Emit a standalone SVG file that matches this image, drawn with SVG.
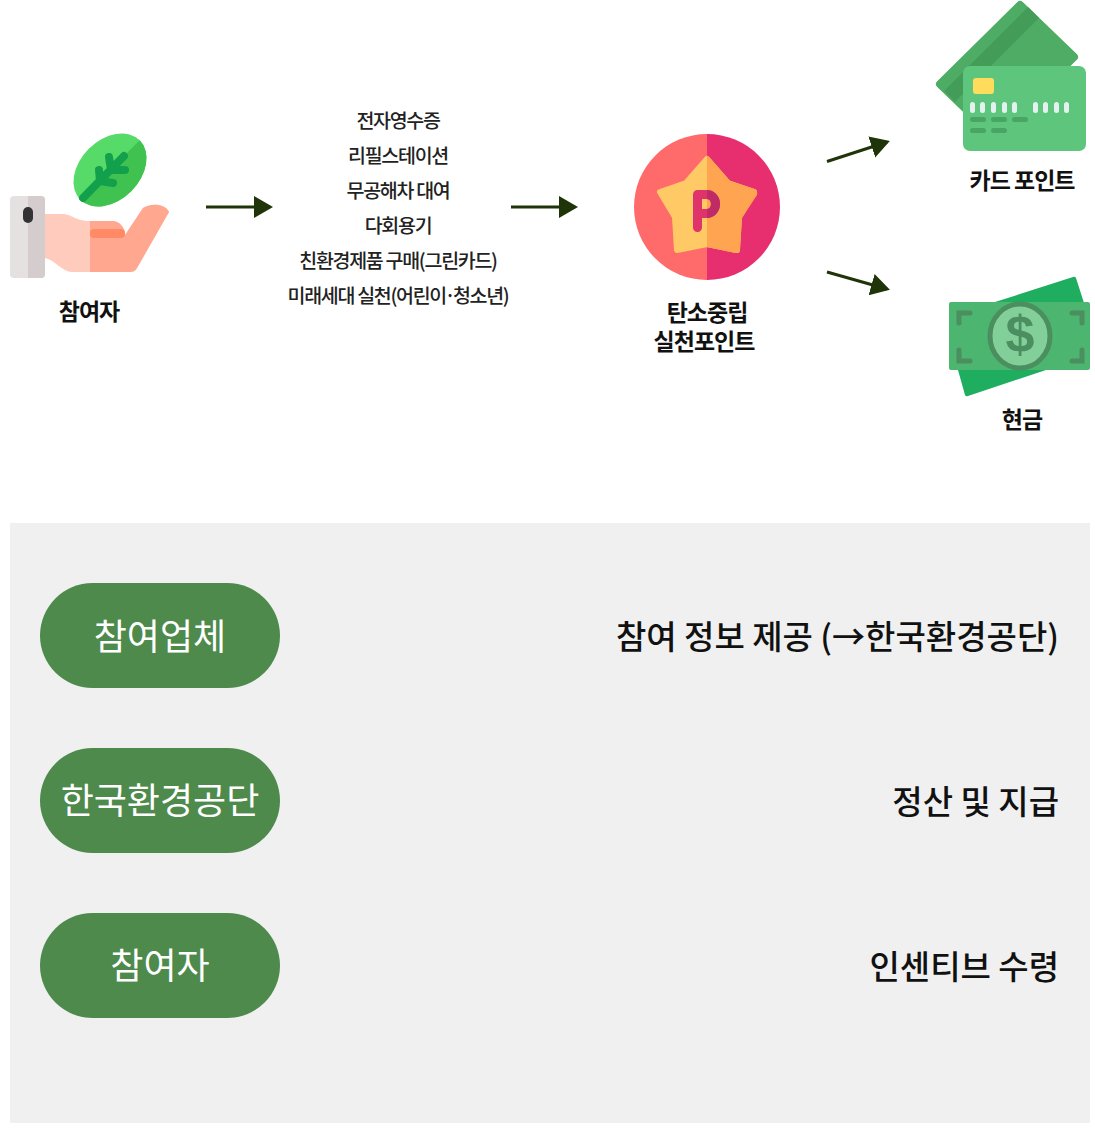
<svg xmlns="http://www.w3.org/2000/svg" width="1095" height="1134" viewBox="0 0 1095 1134">
<style>
text{font-family:"Noto Sans CJK KR","Liberation Sans",sans-serif;text-anchor:middle}
.lab{font-size:23px;font-weight:700;fill:#111;letter-spacing:-1px}
.lst{font-size:19.5px;font-weight:500;fill:#222;letter-spacing:-1.3px}
.pill{fill:#4e8a4c}
.pt{font-size:36px;font-weight:400;fill:#fff}
.rt{font-size:33px;font-weight:500;fill:#111;text-anchor:end}
.ln{stroke:#1f3408;stroke-width:3;fill:none;marker-end:url(#a)}
.dot{fill:#e4f1f0}
</style>
<defs>
<marker id="a" markerUnits="userSpaceOnUse" markerWidth="20" markerHeight="24" refX="16" refY="11" orient="auto"><path d="M0 0L19 11L0 22Z" fill="#1f3408"/></marker>
</defs>
<rect width="1095" height="1134" fill="#fff"/>
<g id="connectors">
<path class="ln" d="M206 207H270"/>
<path class="ln" d="M511 207H575"/>
<path class="ln" d="M827 161.500L887 142"/>
<path class="ln" d="M827 272L887 289"/>
</g>
<g id="participant">
<g transform="rotate(-45 110 170)">
<ellipse cx="110" cy="170" rx="42" ry="30" fill="#56da68"/>
<path d="M68 170A42 30 0 0 0 152 170Z" fill="#40c250"/>
</g>
<path d="M83 198L124 156M100 181L99 170M100 181L113 183M111 170L109 157M111 170L125 170" stroke="#12a04c" stroke-width="8" stroke-linecap="round" fill="none"/>
<path d="M45 214H62C72 214 75 221 90 221H112C120 221 125 228 125 235L143 208C150 203 165 203 169 212L137 268C135 271 133 272 129 272H72C62 272 55 260 45 258Z" fill="#ffcbbc"/>
<path d="M90 221H112C120 221 125 228 125 235L143 208C150 203 165 203 169 212L137 268C135 271 133 272 129 272H90Z" fill="#ffa78f"/>
<rect x="90" y="229" width="35" height="9" rx="4" fill="#ff8a65"/>
<rect x="10" y="196" width="35" height="82" rx="4" fill="#e6e1e1"/>
<path d="M28 196H41a4 4 0 0 1 4 4V274a4 4 0 0 1-4 4H28Z" fill="#d5cdcd"/>
<rect x="23" y="207" width="10" height="16" rx="5" fill="#333"/>
<text class="lab" x="89" y="320">참여자</text>
</g>
<g id="actions">
<text class="lst" x="398" y="127.500">전자영수증</text>
<text class="lst" x="398" y="162.500">리필스테이션</text>
<text class="lst" x="398" y="197.500">무공해차 대여</text>
<text class="lst" x="398" y="232.500">다회용기</text>
<text class="lst" x="398" y="267.500">친환경제품 구매(그린카드)</text>
<text class="lst" x="398" y="302.500">미래세대 실천(어린이<tspan dx="-1.500">·</tspan><tspan dx="-1.500">청소년)</tspan></text>
</g>
<g id="points">
<path d="M707 134A73 73 0 0 0 707 280Z" fill="#ff6b6b"/>
<path d="M707 134A73 73 0 0 1 707 280Z" fill="#e72e6e"/>
<path d="M707 159L728 183L754 192L739 217L737 250L707 244L677 250L675 217L660 192L686 183Z" fill="#ffc965" stroke="#ffc965" stroke-width="6" stroke-linejoin="round"/>
<path d="M707 156V247L735 253Q740 253 740 248L742 218L757 195Q758 191 755 189L730 181L710 158Q708 156 707 156Z" fill="#ffa552"/>
<path d="M697.500 227.500V194.500H706C712 194.500 715.500 199 715.500 204C715.500 209 712 213.500 706 213.500H697.500" fill="none" stroke="#e0336b" stroke-width="9" stroke-linecap="round" stroke-linejoin="round"/>
<path d="M707 194.500C712 194.500 715.500 199 715.500 204C715.500 209 712 213.500 707 213.500" fill="none" stroke="#bf2b66" stroke-width="9"/>
<text class="lab"><tspan x="707" y="321">탄소중립</tspan><tspan x="704" y="350">실천포인트</tspan></text>
</g>
<g id="card">
<path d="M1020 5L1074 57L994 136L940 84Z" fill="#4eac64" stroke="#4eac64" stroke-width="8" stroke-linejoin="round"/>
<path d="M1028 7L1039 18L955 102L944 91Z" fill="#449c59"/>
<rect x="963" y="66" width="123" height="85" rx="7" fill="#5ec57c"/>
<rect x="973" y="78" width="21" height="16" rx="3" fill="#ffdc5c"/>
<g class="dot">
<rect x="970" y="102" width="5" height="11" rx="2.500"/><rect x="980" y="102" width="5" height="11" rx="2.500"/><rect x="991" y="102" width="5" height="11" rx="2.500"/><rect x="1002" y="102" width="5" height="11" rx="2.500"/><rect x="1012" y="102" width="5" height="11" rx="2.500"/><rect x="1033" y="102" width="5" height="11" rx="2.500"/><rect x="1043" y="102" width="5" height="11" rx="2.500"/><rect x="1054" y="102" width="5" height="11" rx="2.500"/><rect x="1064" y="102" width="5" height="11" rx="2.500"/>
</g>
<g fill="#48a564">
<rect x="970" y="117" width="16" height="5" rx="2.500"/><rect x="991" y="117" width="16" height="5" rx="2.500"/><rect x="1012" y="117" width="16" height="5" rx="2.500"/><rect x="970" y="128" width="16" height="5" rx="2.500"/><rect x="991" y="128" width="16" height="5" rx="2.500"/>
</g>
<text class="lab" x="1022" y="189">카드 포인트</text>
</g>
<g id="cash">
<path d="M995 302L1073 277Q1075 276 1076 278L1084 303L1046 370L968 396Q966 397 965 395L958 370Z" fill="#1fae60"/>
<rect x="949" y="302" width="141" height="68" rx="2" fill="#4cb56f"/>
<ellipse cx="1020" cy="336" rx="30" ry="32" fill="#82cf9a" stroke="#4b8e5f" stroke-width="5"/>
<text x="1020" y="352" style="font-family:'Liberation Sans',sans-serif;font-size:52px;font-weight:700" fill="#4b8e5f">$</text>
<path d="M970 313H959V323M1072 313H1082V323M970 361H959V350M1072 361H1082V350" fill="none" stroke="#4b8e5f" stroke-width="5" stroke-linecap="round"/>
<text class="lab" x="1022" y="428">현금</text>
</g>
<rect id="panel" x="10" y="523" width="1080" height="600" fill="#f0f0f0"/>
<g id="row1"><rect class="pill" x="40" y="583" width="240" height="105" rx="52.500"/><text class="pt" x="160" y="650">참여업체</text><text class="rt" x="1059" y="649">참여 정보 제공 (→한국환경공단)</text></g>
<g id="row2"><rect class="pill" x="40" y="748" width="240" height="105" rx="52.500"/><text class="pt" x="160" y="814">한국환경공단</text><text class="rt" x="1059" y="814">정산 및 지급</text></g>
<g id="row3"><rect class="pill" x="40" y="913" width="240" height="105" rx="52.500"/><text class="pt" x="160" y="979">참여자</text><text class="rt" x="1059" y="979">인센티브 수령</text></g>
</svg>
